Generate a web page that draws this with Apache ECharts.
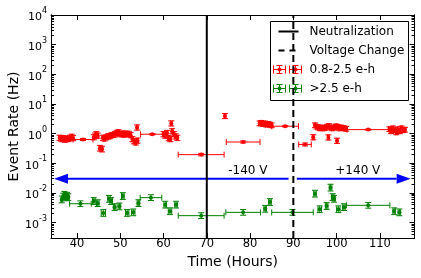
<!DOCTYPE html>
<html><head><meta charset="utf-8">
<script src="https://cdn.jsdelivr.net/npm/echarts@6/dist/echarts.min.js"></script>
<style>html,body{margin:0;padding:0;background:#fff}#c{width:421px;height:278px}</style>
</head><body><div id="c"></div>
<script>
// ---- data ----
const xTicks = [40, 50, 60, 70, 80, 90, 100, 110];
const yTickExps = [-3, -2, -1, 0, 1, 2, 3, 4];
const xMin = 34, xMax = 118;
const yMinRate = 3e-4, yMaxRate = 1e4;

const redTime = [36.0,36.4,36.8,37.2,37.6,38.0,38.4,38.8,39.1, 41.4, 43.9,44.2,44.5,44.8, 45.3,45.8,
  46.0,46.4,46.8,47.2,47.6,48.0,48.4,48.8,49.2,49.6,50.0,50.4,50.8,51.2,51.6,52.0,52.4,52.8,53.2,53.6,54.0, 53.9,
  57.4, 60.0,60.4,60.8,61.2,61.6,62.0,62.4,62.8,63.2, 61.8, 68.7, 74.2, 78.4,
  82.2,82.6,83.0,83.4,83.8,84.2,84.6,85.0, 88.1, 92.7, 94.6,
  95.0,95.4,95.8,96.2,96.6,97.0,97.4,97.8,98.2,98.6,99.0,99.4,99.8,100.2,100.6,101.0,101.4,101.8,102.2,
  98.1, 100.1, 107.3,
  112.2,112.6,113.0,113.4,113.8,114.2,114.6,115.0,115.4,115.8];
const redRate = [0.72,0.65,0.70,0.62,0.68,0.65,0.72,0.78,0.70, 0.63, 0.75,0.85,0.95,0.85, 0.32,0.30,
  0.72,0.68,0.75,0.80,0.82,0.88,0.90,0.95,1.05,1.10,0.95,1.00,0.92,1.00,0.95,0.98,0.88,0.65,0.55,0.50,0.58, 1.6,
  0.95, 0.95,0.85,1.05,0.70,0.65,1.20,0.95,0.80,0.72, 2.2, 0.195, 3.9, 0.52,
  2.2,2.3,2.1,2.2,2.0,2.1,2.0,1.9, 1.77, 0.43, 0.75,
  1.9,1.7,1.6,1.5,1.6,1.5,1.55,1.7,1.8,1.6,1.5,1.6,1.75,1.7,1.5,1.6,1.55,1.5,1.45,
  0.74, 0.57, 1.36,
  1.4,1.2,1.5,1.3,1.1,1.4,1.2,1.5,1.3,1.35];
const redTimeErr = [0.2,0.2,0.2,0.2,0.2,0.2,0.2,0.2,0.2, 2.3, 0.15,0.15,0.15,0.15, 0.2,0.2,
  0.2,0.2,0.2,0.2,0.2,0.2,0.2,0.2,0.2,0.2,0.2,0.2,0.2,0.2,0.2,0.2,0.2,0.2,0.2,0.2,0.2, 0.2,
  2.7, 0.2,0.2,0.2,0.2,0.2,0.2,0.2,0.2,0.2, 0.2, 5.3, 0.2, 3.9,
  0.2,0.2,0.2,0.2,0.2,0.2,0.2,0.2, 3.1, 1.45, 0.2,
  0.2,0.2,0.2,0.2,0.2,0.2,0.2,0.2,0.2,0.2,0.2,0.2,0.2,0.2,0.2,0.2,0.2,0.2,0.2,
  0.2, 0.2, 4.9,
  0.2,0.2,0.2,0.2,0.2,0.2,0.2,0.2,0.2,0.2];
// multiplicative rate error (upper = rate*f, lower = rate/f)
const redRateErr = [1.22,1.22,1.22,1.22,1.22,1.22,1.22,1.22,1.22, 1.08, 1.22,1.22,1.22,1.22, 1.25,1.25,
  1.22,1.22,1.22,1.22,1.22,1.22,1.22,1.22,1.22,1.22,1.22,1.22,1.22,1.22,1.22,1.22,1.22,1.22,1.22,1.22,1.22, 1.22,
  1.06, 1.22,1.22,1.22,1.22,1.22,1.22,1.22,1.22,1.22, 1.22, 1.10, 1.22, 1.08,
  1.2,1.2,1.2,1.2,1.2,1.2,1.2,1.2, 1.05, 1.12, 1.22,
  1.2,1.2,1.2,1.2,1.2,1.2,1.2,1.2,1.2,1.2,1.2,1.2,1.2,1.2,1.2,1.2,1.2,1.2,1.2,
  1.22, 1.22, 1.05,
  1.2,1.2,1.2,1.2,1.2,1.2,1.2,1.2,1.2,1.2];

const greenTime = [36.5,36.8,37.1,37.4,37.7,38.0, 40.8, 43.9,44.8, 46.1, 47.4,47.9,48.7,49.8,50.6,51.6,53.0,54.2,
  57.1, 60.4,61.5,62.9, 68.7, 78.4, 83.5,84.6, 89.8,
  95.0,96.1,97.7,98.6,99.1,99.4,100.4,101.7, 107.3, 113.3,114.5];
const greenRate = [0.0060,0.0075,0.0085,0.0070,0.0080,0.0072, 0.0043, 0.0053,0.0045, 0.0021, 0.0063,0.0053,0.0033,0.0035,0.0078,0.0021,0.0022,0.0045,
  0.0069, 0.0040,0.0024,0.0040, 0.0017, 0.0022, 0.0029,0.0049, 0.0022,
  0.0094,0.0028,0.0036,0.015,0.0072,0.0063,0.0028,0.0033, 0.0038, 0.0024,0.0022];
const greenTimeErr = [0.2,0.2,0.2,0.2,0.2,0.2, 2.5, 0.3,0.3, 0.5, 0.3,0.3,0.3,0.3,0.3,0.4,0.4,0.3,
  2.5, 0.3,0.4,0.3, 5.3, 4.0, 0.3,0.3, 4.8,
  0.3,0.4,0.3,0.3,0.3,0.3,0.4,0.3, 5.0, 0.3,0.3];
const greenRateErr = [1.3,1.3,1.3,1.3,1.3,1.3, 1.25, 1.3,1.3, 1.3, 1.3,1.3,1.3,1.3,1.3,1.3,1.3,1.3,
  1.25, 1.3,1.3,1.3, 1.25, 1.25, 1.3,1.3, 1.25,
  1.3,1.3,1.3,1.3,1.3,1.3,1.3,1.3, 1.25, 1.3,1.3];

const neutralizationTime = [70];
const voltageChangeTime = [90];
const arrowFrom = [88.9, 90.8];
const arrowTo = [34.7, 117.1];
const arrowRate = [0.03, 0.03];
const voltLabels = ['-140 V', '+140 V'];
const voltLabelTime = [79.5, 104.9];

// ---- build ----
const L10 = Math.log10;
const yMin = L10(yMinRate), yMax = L10(yMaxRate);
const FONT = 'DejaVu Sans';
const minorVals = [];
for (let e = -4; e < 4; e++) for (let k = 2; k <= 9; k++) {
  const v = L10(k * Math.pow(10, e));
  if (v >= yMin - 1e-9 && v <= yMax) minorVals.push(v);
}
function mk(ts, rs, te, re) {
  return ts.map((t, i) => [t, L10(rs[i]), te[i], L10(rs[i] / re[i]), L10(rs[i] * re[i])]);
}
const redData = mk(redTime, redRate, redTimeErr, redRateErr);
const greenData = mk(greenTime, greenRate, greenTimeErr, greenRateErr);

function errRender(color, cap, r) {
  return function (params, api) {
    const t = api.value(0), ly = api.value(1), te = api.value(2), lo = api.value(3), hi = api.value(4);
    const c = api.coord([t, ly]);
    const Lp = api.coord([t - te, ly]), Rp = api.coord([t + te, ly]);
    const T = api.coord([t, hi]), B = api.coord([t, lo]);
    const st = { stroke: color, lineWidth: 1 };
    return { type: 'group', children: [
      { type: 'line', shape: { x1: Lp[0], y1: c[1], x2: Rp[0], y2: c[1] }, style: st },
      { type: 'line', shape: { x1: Lp[0], y1: c[1] - cap, x2: Lp[0], y2: c[1] + cap }, style: st },
      { type: 'line', shape: { x1: Rp[0], y1: c[1] - cap, x2: Rp[0], y2: c[1] + cap }, style: st },
      { type: 'line', shape: { x1: c[0], y1: T[1], x2: c[0], y2: B[1] }, style: st },
      { type: 'line', shape: { x1: c[0] - cap, y1: T[1], x2: c[0] + cap, y2: T[1] }, style: st },
      { type: 'line', shape: { x1: c[0] - cap, y1: B[1], x2: c[0] + cap, y2: B[1] }, style: st },
      { type: 'circle', shape: { cx: c[0], cy: c[1], r: r }, style: { fill: color } }
    ]};
  };
}
function vlineRender(dash) {
  return function (params, api) {
    const t = api.value(0);
    const p1 = api.coord([t, yMin]), p2 = api.coord([t, yMax]);
    return { type: 'line', shape: { x1: p1[0], y1: p1[1], x2: p2[0], y2: p2[1] },
      style: { stroke: '#000', lineWidth: 2, lineDash: dash } };
  };
}
function arrowRender(params, api) {
  const a = api.coord([api.value(0), api.value(2)]), b = api.coord([api.value(1), api.value(2)]);
  const dir = b[0] > a[0] ? 1 : -1, hl = 14, hw = 5;
  const bx = b[0] - dir * hl;
  return { type: 'group', children: [
    { type: 'line', shape: { x1: a[0], y1: a[1], x2: bx, y2: b[1] }, style: { stroke: '#0000ff', lineWidth: 2 } },
    { type: 'polygon', shape: { points: [[b[0], b[1]], [bx, b[1] - hw], [bx, b[1] + hw]] }, style: { fill: '#0000ff' } }
  ]};
}
function labelRender(params, api) {
  const c = api.coord([api.value(0), api.value(1)]);
  return { type: 'text', style: { text: voltLabels[params.dataIndex], x: c[0], y: c[1] - 2,
    align: 'center', verticalAlign: 'bottom', fontSize: 12, fontFamily: FONT, fill: '#000' } };
}

const axisLineBlack = { show: true, onZero: false, lineStyle: { color: '#000', width: 1 } };
const xBase = { type: 'value', min: xMin, max: xMax, splitLine: { show: false }, axisLine: axisLineBlack };
const yBase = { type: 'value', min: yMin, max: yMax, splitLine: { show: false }, axisLine: axisLineBlack };

const option = {
  animation: false,
  backgroundColor: '#fff',
  grid: { left: 51, top: 15, width: 363.5, height: 223, containLabel: false, outerBoundsMode: 'none' },
  xAxis: [
    Object.assign({}, xBase, { position: 'bottom',
      name: 'Time (Hours)', nameLocation: 'middle', nameGap: 16,
      nameTextStyle: { fontSize: 14, fontFamily: FONT, color: '#000' },
      axisTick: { show: true, inside: true, length: 5, lineStyle: { color: '#000' }, customValues: xTicks },
      axisLabel: { show: true, margin: 0, fontSize: 11.5, fontFamily: FONT, color: '#000', customValues: xTicks } }),
    Object.assign({}, xBase, { position: 'top',
      axisTick: { show: true, inside: true, length: 5, lineStyle: { color: '#000' }, customValues: xTicks },
      axisLabel: { show: false } })
  ],
  yAxis: [
    Object.assign({}, yBase, { position: 'left',
      name: 'Event Rate (Hz)', nameLocation: 'middle', nameGap: 30, nameMoveOverlap: false,
      nameTextStyle: { fontSize: 14, fontFamily: FONT, color: '#000' },
      axisTick: { show: true, inside: true, length: 5, lineStyle: { color: '#000' }, customValues: yTickExps },
      axisLabel: { show: true, margin: 4, customValues: yTickExps,
        formatter: v => '{b|10}{s|' + Math.round(v) + '}',
        rich: { b: { fontSize: 11, fontFamily: FONT, color: '#000', lineHeight: 16, verticalAlign: 'bottom' },
                s: { fontSize: 8, fontFamily: FONT, color: '#000', lineHeight: 16, verticalAlign: 'top' } } } }),
    Object.assign({}, yBase, { position: 'left',
      axisTick: { show: true, inside: true, length: 3, lineStyle: { color: '#000' }, customValues: minorVals },
      axisLabel: { show: false } }),
    Object.assign({}, yBase, { position: 'right',
      axisTick: { show: true, inside: true, length: 5, lineStyle: { color: '#000' }, customValues: yTickExps },
      axisLabel: { show: false } }),
    Object.assign({}, yBase, { position: 'right',
      axisTick: { show: true, inside: true, length: 3, lineStyle: { color: '#000' }, customValues: minorVals },
      axisLabel: { show: false } })
  ],
  series: [
    { type: 'custom', name: '0.8-2.5 e-h', renderItem: errRender('#ff0000', 3, 2), data: redData, encode: { x: 0, y: 1 }, z: 3 },
    { type: 'custom', name: '>2.5 e-h', renderItem: errRender('#008000', 3, 2), data: greenData, encode: { x: 0, y: 1 }, z: 3 },
    { type: 'custom', renderItem: arrowRender, data: arrowFrom.map((f, i) => [f, arrowTo[i], L10(arrowRate[i])]), encode: { x: [0, 1], y: 2 }, z: 4 },
    { type: 'custom', renderItem: labelRender, data: voltLabelTime.map((t, i) => [t, L10(arrowRate[i])]), encode: { x: 0, y: 1 }, z: 4 },
    { type: 'custom', name: 'Neutralization', renderItem: vlineRender(null), data: neutralizationTime.map(t => [t, 0]), encode: { x: 0, y: 1 }, z: 5 },
    { type: 'custom', name: 'Voltage Change', renderItem: vlineRender([7, 4]), data: voltageChangeTime.map(t => [t, 0]), encode: { x: 0, y: 1 }, z: 5 }
  ],
  graphic: [
    { type: 'group', left: 270, top: 21, z: 100, children: [
      { type: 'rect', shape: { x: 0, y: 0, width: 138, height: 79 }, style: { fill: '#fff', stroke: '#000', lineWidth: 1 } },
      { type: 'line', shape: { x1: 8, y1: 10, x2: 28, y2: 10 }, style: { stroke: '#000', lineWidth: 2 } },
      { type: 'text', style: { text: 'Neutralization', x: 39, y: 10, verticalAlign: 'middle', fontSize: 12, fontFamily: FONT, fill: '#000' } },
      { type: 'line', shape: { x1: 8, y1: 29, x2: 28, y2: 29 }, style: { stroke: '#000', lineWidth: 2, lineDash: [6, 5] } },
      { type: 'text', style: { text: 'Voltage Change', x: 39, y: 29, verticalAlign: 'middle', fontSize: 12, fontFamily: FONT, fill: '#000' } },
      { type: 'text', style: { text: '0.8-2.5 e-h', x: 39, y: 48, verticalAlign: 'middle', fontSize: 12, fontFamily: FONT, fill: '#000' } },
      { type: 'text', style: { text: '>2.5 e-h', x: 39, y: 67, verticalAlign: 'middle', fontSize: 12, fontFamily: FONT, fill: '#000' } }
    ]}
  ]
};
// legend error-bar icons
[['#ff0000', 48], ['#008000', 67]].forEach(([col, yy]) => {
  [9, 25].forEach(cx => {
    const st = { stroke: col, lineWidth: 1 };
    const g = option.graphic[0].children;
    g.push({ type: 'line', shape: { x1: cx - 6, y1: yy, x2: cx + 6, y2: yy }, style: st });
    g.push({ type: 'line', shape: { x1: cx - 6, y1: yy - 4, x2: cx - 6, y2: yy + 4 }, style: st });
    g.push({ type: 'line', shape: { x1: cx + 6, y1: yy - 4, x2: cx + 6, y2: yy + 4 }, style: st });
    g.push({ type: 'line', shape: { x1: cx, y1: yy - 4, x2: cx, y2: yy + 4 }, style: st });
    g.push({ type: 'line', shape: { x1: cx - 3, y1: yy - 4, x2: cx + 3, y2: yy - 4 }, style: st });
    g.push({ type: 'line', shape: { x1: cx - 3, y1: yy + 4, x2: cx + 3, y2: yy + 4 }, style: st });
    g.push({ type: 'circle', shape: { cx: cx, cy: yy, r: 2 }, style: { fill: col } });
  });
});
const chart = echarts.init(document.getElementById('c'), null, { renderer: 'canvas' });
chart.setOption(option);
</script></body></html>
